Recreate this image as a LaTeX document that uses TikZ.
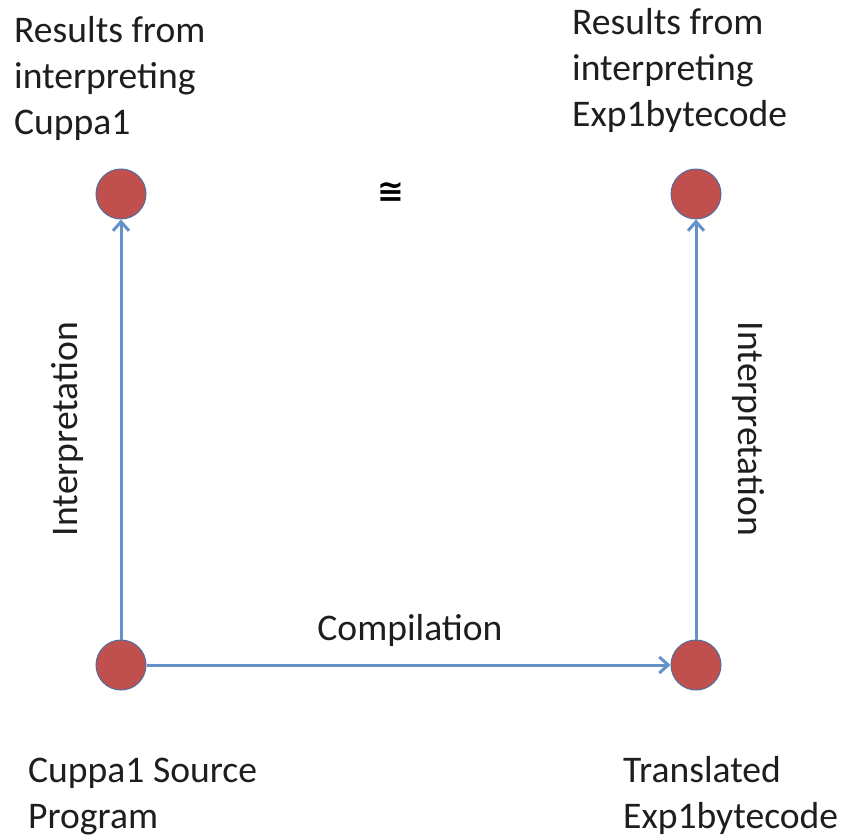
\documentclass[tikz,border=0pt]{standalone}
\usepackage{fontspec}
\setmainfont{Carlito}
\newfontfamily\symfont{DejaVu Sans}
\usetikzlibrary{arrows.meta}
\definecolor{dotfill}{RGB}{192,80,77}
\definecolor{dotline}{RGB}{80,110,160}
\definecolor{arrowblue}{RGB}{100,145,200}
\definecolor{txt}{RGB}{30,30,30}
\begin{document}
\begin{tikzpicture}[x=1pt,y=1pt,
  dot/.style={circle,fill=dotfill,draw=dotline,line width=1pt,minimum size=50pt,inner sep=0pt},
  conn/.style={draw=arrowblue,line width=3pt,-{Straight Barb[length=9pt,width=16pt,line width=3pt]}},
  lbl/.style={font=\fontsize{37.6}{46}\selectfont,text=txt,align=left,inner sep=0pt},
  ]
\useasboundingbox[fill=white] (0,0) rectangle (848,-839);
\node[dot] (tl) at (121,-194) {};
\node[dot] (tr) at (696,-194) {};
\node[dot] (bl) at (121,-665) {};
\node[dot] (br) at (696,-665) {};
\draw[conn] (bl) -- (tl);
\draw[conn] (bl) -- (br);
\draw[conn] (br) -- (tr);
\node[lbl,anchor=base west] (t1) at (14,-134) {Results from\\interpreting\\Cuppa1};
\node[lbl,anchor=base west] (t2) at (572,-126) {Results from\\interpreting\\Exp1bytecode};
\node[lbl,anchor=base west] (t3) at (28,-828) {Cuppa1 Source\\Program};
\node[lbl,anchor=base west] (t4) at (623,-828) {Translated\\Exp1bytecode};
\node[lbl,rotate=90] (i1) at (68,-429) {Interpretation};
\node[lbl,rotate=-90] (i2) at (748,-429) {Interpretation};
\node[lbl] (c) at (410,-630) {Compilation};
\node[font=\symfont\bfseries\fontsize{32}{34}\selectfont,text=black,inner sep=0pt] (cong) at (391,-192) {≅};
\end{tikzpicture}
\end{document}
